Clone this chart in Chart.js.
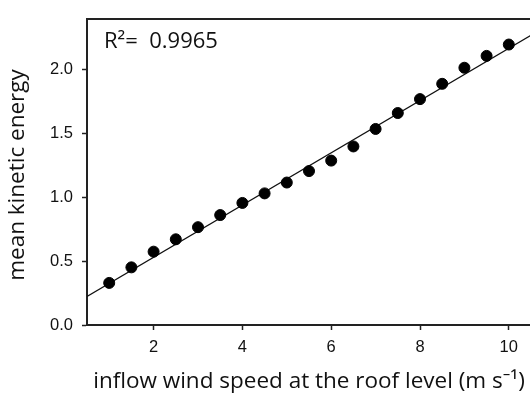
<!DOCTYPE html>
<html>
<head>
<meta charset="utf-8">
<script src="https://cdn.jsdelivr.net/npm/chart.js@4/dist/chart.umd.min.js"></script>
<style>
  html, body { margin: 0; padding: 0; background: #fff; overflow: hidden; width: 530px; height: 399px; }
  #wrap { width: 540px; height: 399px; }
</style>
</head>
<body>
<div id="wrap"><canvas id="c" width="540" height="399"></canvas></div>
<script>
// ---- data ----
const windSpeed = [1, 1.5, 2, 2.5, 3, 3.5, 4, 4.5, 5, 5.5, 6, 6.5, 7, 7.5, 8, 8.5, 9, 9.5, 10];
const kineticEnergy = [0.33, 0.452, 0.575, 0.672, 0.767, 0.862, 0.957, 1.032, 1.117, 1.207, 1.289, 1.40, 1.537, 1.662, 1.771, 1.891, 2.017, 2.11, 2.199];
const fitX = [0.5, 10.5];
const fitY = [0.224, 2.272];
const xTicks = [2, 4, 6, 8, 10];
const xTickLabels = ['2', '4', '6', '8', '10'];
const yTicks = [0, 0.5, 1.0, 1.5, 2.0];
const yTickLabels = ['0.0', '0.5', '1.0', '1.5', '2.0'];
const xTitle = 'inflow wind speed at the roof level (m s\u207B\u00B9)';
const yTitle = 'mean kinetic energy';
const r2Label = 'R\u00B2=  0.9965';

const titleFont = '"Open Sans", "Noto Sans", sans-serif';
const tickFont = '"Liberation Sans", Arial, sans-serif';

const framePlugin = {
  id: 'frame',
  afterDraw(chart) {
    const { ctx, chartArea: a } = chart;
    ctx.save();
    ctx.strokeStyle = '#222';
    ctx.lineWidth = 2;
    ctx.beginPath();
    ctx.moveTo(a.left, a.top);
    ctx.lineTo(a.right, a.top);
    ctx.lineTo(a.right, a.bottom);
    ctx.stroke();
    // R^2 annotation
    ctx.fillStyle = '#111';
    ctx.font = '22px ' + titleFont;
    ctx.textAlign = 'left';
    ctx.textBaseline = 'alphabetic';
    ctx.fillText(r2Label, a.left + 17, a.top + 29);
    // y axis title
    ctx.translate(17.5, 175);
    ctx.rotate(-Math.PI / 2);
    ctx.font = '22.5px ' + titleFont;
    ctx.textAlign = 'center';
    ctx.textBaseline = 'middle';
    ctx.fillText(yTitle, 0, 0);
    ctx.restore();
  }
};

new Chart(document.getElementById('c'), {
  type: 'scatter',
  data: {
    datasets: [
      {
        type: 'line',
        data: fitX.map((x, i) => ({ x, y: fitY[i] })),
        borderColor: '#111',
        borderWidth: 1.3,
        pointRadius: 0,
        fill: false,
        order: 2
      },
      {
        data: windSpeed.map((x, i) => ({ x, y: kineticEnergy[i] })),
        backgroundColor: '#000',
        borderColor: '#000',
        pointRadius: 5.5,
        pointHoverRadius: 5.5,
        order: 1
      }
    ]
  },
  options: {
    responsive: false,
    animation: false,
    events: [],
    layout: { padding: { top: 5, right: 9, left: 0, bottom: 0 } },
    plugins: { legend: { display: false }, tooltip: { enabled: false } },
    scales: {
      x: {
        type: 'linear',
        min: 0.5,
        max: 10.5,
        afterBuildTicks: s => { s.ticks = xTicks.map(v => ({ value: v })); },
        afterFit: s => { s.height = 74; },
        ticks: {
          color: '#111',
          font: { family: tickFont, size: 16.5 },
          padding: 8,
          maxRotation: 0,
          callback: (v) => xTickLabels[xTicks.indexOf(v)]
        },
        grid: { display: true, drawOnChartArea: false, drawTicks: true, tickLength: 5, tickColor: '#222', tickWidth: 1.5 },
        border: { display: true, color: '#222', width: 2 },
        title: {
          display: true,
          text: xTitle,
          color: '#111',
          font: { family: titleFont, size: 22.5 },
          padding: { top: 0, bottom: 4 }
        }
      },
      y: {
        type: 'linear',
        min: 0,
        max: 2.4,
        afterBuildTicks: s => { s.ticks = yTicks.map(v => ({ value: v })); },
        afterFit: s => { s.width = 87; },
        ticks: {
          color: '#111',
          font: { family: tickFont, size: 16.5 },
          padding: 9,
          callback: (v) => yTickLabels[yTicks.indexOf(v)]
        },
        grid: { display: true, drawOnChartArea: false, drawTicks: true, tickLength: 5, tickColor: '#222', tickWidth: 1.5 },
        border: { display: true, color: '#222', width: 2 },
        title: { display: false }
      }
    }
  },
  plugins: [framePlugin]
});
</script>
</body>
</html>
